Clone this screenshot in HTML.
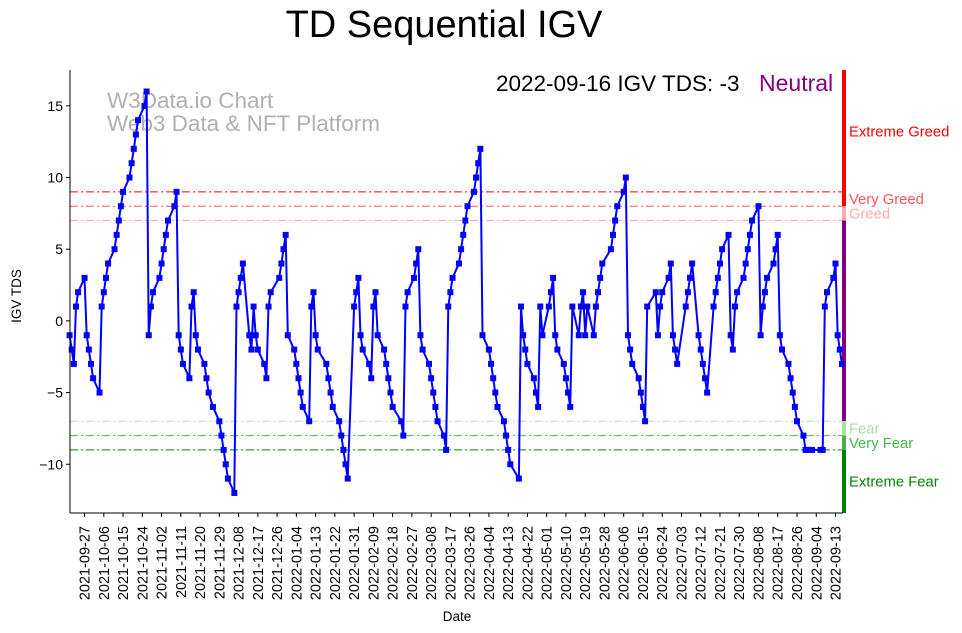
<!DOCTYPE html>
<html><head><meta charset="utf-8"><style>
body{margin:0;background:#fff;}
svg{display:block;font-family:"Liberation Sans","DejaVu Sans",sans-serif;}
</style></head>
<body>
<svg id="chart" width="962" height="633" viewBox="0 0 962 633" xmlns="http://www.w3.org/2000/svg">
<text x="444" y="37" font-size="38" text-anchor="middle">TD Sequential IGV</text>
<g fill="#b0b0b0" font-size="22.5">
<text x="107" y="108">W3Data.io Chart</text>
<text x="107" y="131">Web3 Data &amp; NFT Platform</text>
</g>
<text x="496" y="91" font-size="22.5">2022-09-16 IGV TDS: -3</text>
<text x="759" y="91" font-size="23" fill="#800080">Neutral</text>
<g id="grid"></g>
<g id="bands"></g>
<g id="series"></g>
<g id="axes"></g>
<text x="457" y="621" font-size="13.5" text-anchor="middle">Date</text>
<text transform="translate(21,296) rotate(-90)" font-size="13.5" text-anchor="middle">IGV TDS</text>
</svg>
<script>
const startDate = "2021-09-20";
const holidays = ["2021-11-25","2021-12-24","2022-01-17","2022-02-21","2022-04-15","2022-05-30","2022-06-20","2022-07-04","2022-09-05"];
const tdsValues = [
-1,-2,-3,1,2, 3,-1,-2,-3,-4, -5,1,2,3,4, 5,6,7,8,9, 10,11,12,13,14, 15,16,-1,1,2,
3,4,5,6,7, 8,9,-1,-2,-3, -4,1,2,-1,-2, -3,-4,-5,-6, -7,-8,-9,-10,-11,
-12,1,2,3,4, -1,-2,1,-1,-2, -3,-4,1,2, 3,4,5,6,-1,
-2,-3,-4,-5,-6, -7,1,2,-1,-2, -3,-4,-5,-6, -7,-8,-9,-10,-11,
1,2,3,-1,-2, -3,-4,1,2,-1, -2,-3,-4,-5,-6, -7,-8,1,2, 3,4,5,-1,-2,
-3,-4,-5,-6,-7, -8,-9,1,2,3, 4,5,6,7,8, 9,10,11,12,-1,
-2,-3,-4,-5,-6, -7,-8,-9,-10, -11,1,-1,-2,-3, -4,-5,-6,1,-1,
1,2,3,-1,-2, -3,-4,-5,-6,1, -1,1,2,-1,1, -1,1,2,3,4, 5,6,7,8,
9,10,-1,-2,-3, -4,-5,-6,-7,1, 2,-1,1,2, 3,4,-1,-2,-3, 1,2,3,4,
-1,-2,-3,-4,-5, 1,2,3,4,5, 6,-1,-2,1,2, 3,4,5,6,7, 8,-1,1,2,3,
4,5,6,-1,-2, -3,-4,-5,-6,-7, -8,-9,-9,-9,-9, -9,-9,1,2, 3,4,-1,-2,-3];
const yTicks = [15,10,5,0,-5,-10];
const refLevels = [9,8,7,-7,-8,-9];
const refColors = ["#ff0000","#ff5555","#ffaaaa","#aaddaa","#44bb44","#008800"];
const zoneLabels = ["Extreme Greed","Very Greed","Greed","Fear","Very Fear","Extreme Fear"];
const zoneLabelY = [13.2,8.5,7.5,-7.5,-8.5,-11.2];
const tickStart = "2021-09-27", tickStepDays = 9, tickCount = 40;

const NS="http://www.w3.org/2000/svg";
const DAY=86400000;
const t0=Date.parse(tickStart+"T00:00:00Z");
const X0=70, X1=843, Y0=70, Y1=513;
const dMin=-6.8, dMax=354.5, vMin=-13.4, vMax=17.5;
function xs(d){return X0+(d-dMin)/(dMax-dMin)*(X1-X0);}
function ys(v){return Y1-(v-vMin)/(vMax-vMin)*(Y1-Y0);}
function mk(tag,attrs,parent){const e=document.createElementNS(NS,tag);for(const k in attrs)e.setAttribute(k,attrs[k]);parent.appendChild(e);return e;}
function iso(t){return new Date(t).toISOString().slice(0,10);}

const days=[];
let t=Date.parse(startDate+"T00:00:00Z");
while(days.length<tdsValues.length){
  const wd=new Date(t).getUTCDay();
  if(wd!==0&&wd!==6&&holidays.indexOf(iso(t))<0)days.push((t-t0)/DAY);
  t+=DAY;
}

const grid=document.getElementById('grid');
refLevels.forEach((lv,i)=>{
  const l=mk('line',{x1:X0,x2:X1,y1:ys(lv),y2:ys(lv),stroke:refColors[i],'stroke-width':1,'stroke-dasharray':'8,3,2,3'},grid);
  
  
});

const bands=document.getElementById('bands');
const bandDefs=[[vMax,8,"#ff0000"],[8,7,"#ffaaaa"],[7,-7,"#800080"],[-7,-8,"#aaddaa"],[-8,-9,"#55aa55"],[-9,vMin,"#008000"]];
bandDefs.forEach((b,i)=>{
  const r=mk('rect',{x:842,y:ys(b[0]),width:4,height:ys(b[1])-ys(b[0]),fill:b[2]},bands);
  
  
});
zoneLabels.forEach((s,i)=>{
  const tx=mk('text',{x:849,y:ys(zoneLabelY[i])+5,'font-size':14.8,fill:refColors[i]},bands);
  tx.textContent=s;
  
  
});

const ser=document.getElementById('series');
const pts=tdsValues.map((v,i)=>xs(days[i]).toFixed(1)+","+ys(v).toFixed(1)).join(" ");
const pl=mk('polyline',{points:pts,fill:'none',stroke:'#0000ff','stroke-width':2},ser);


tdsValues.forEach((v,i)=>{
  const r=mk('rect',{x:xs(days[i])-3,y:ys(v)-3,width:6,height:6,fill:'#0000ff'},ser);
  
  
});

const ax=document.getElementById('axes');
const la=mk('line',{x1:X0,x2:X0,y1:Y0,y2:Y1,stroke:'#000','stroke-width':1},ax);


const lb=mk('line',{x1:X0,x2:X1,y1:Y1,y2:Y1,stroke:'#000','stroke-width':1},ax);


yTicks.forEach(v=>{
  const y=ys(v);
  mk('line',{x1:X0-4,x2:X0,y1:y,y2:y,stroke:'#000'},ax);
  const tx=mk('text',{x:X0-7,y:y+5,'font-size':14,'text-anchor':'end'},ax);
  tx.textContent=v<0?'\u2212'+(-v):String(v);
  
  
});
for(let k=0;k<tickCount;k++){
  const d=k*tickStepDays, x=xs(d);
  mk('line',{x1:x,x2:x,y1:Y1,y2:Y1+4,stroke:'#000'},ax);
  const tx=mk('text',{transform:`translate(${x+5},${Y1+13}) rotate(-90)`,'font-size':14.5,'text-anchor':'end'},ax);
  tx.textContent=iso(t0+d*DAY);
  
  
}
</script>
</body></html>
